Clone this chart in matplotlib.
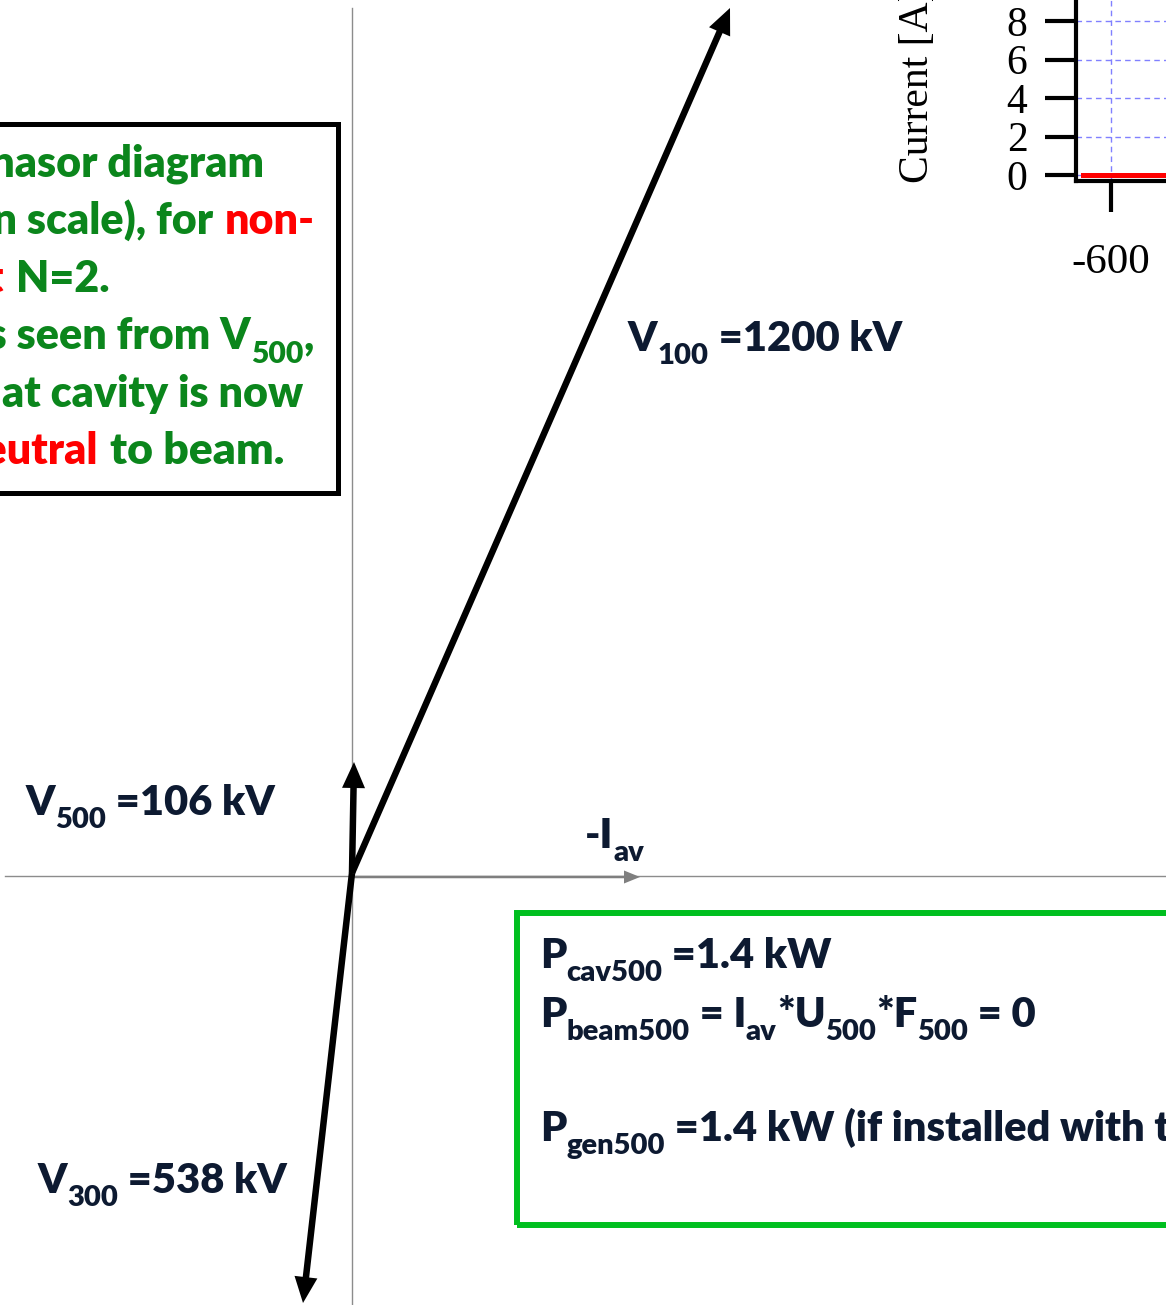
import matplotlib.pyplot as plt
from matplotlib.patches import Rectangle

W, H = 1166, 1305

# phasors: label, amplitude and drawn components (diagram is not in scale)
phasor_names = ['100', '500', '300']
phasor_kv = [1200, 106, 538]
phasor_dx = [378, 2, -49]
phasor_dy = [868, 114, -427]
iav_dx = 288
iav_dy = 0

# small current plot in the corner
inset_x = [-640, -400, -200, 0, 200, 400, 650]
inset_current = [0, 0, 0, 0, 0, 0, 0]
inset_xticks = [-600, -400, -200, 0, 200, 400, 600]
inset_yticks = [0, 2, 4, 6, 8, 10, 12, 14, 16, 18]

navy = '#0d1a31'
green = '#0b861c'
red = '#ff0000'

plt.rcParams['font.family'] = ['Lato', 'DejaVu Sans']
plt.rcParams['font.weight'] = 'heavy'
plt.rcParams['axes.unicode_minus'] = False

fig = plt.figure(figsize=(W / 100, H / 100), dpi=100)
renderer = fig.canvas.get_renderer()

# phasor diagram, origin at pixel (352, 876)
ox, oy = 352, 876
ax = fig.add_axes([0, 0, 1, 1])
ax.set_xlim(-ox, W - ox)
ax.set_ylim(-(H - oy), oy)
ax.axis('off')

ax.plot([0, 0], [-(H - oy), oy - 8], color='#8c8c8c', lw=1)
ax.plot([5 - ox, W - ox], [0, 0], color='#8c8c8c', lw=1)

for dx, dy in zip(phasor_dx, phasor_dy):
    ax.arrow(0, 3, dx, dy - 3, width=6.5, head_width=23, head_length=26,
             length_includes_head=True, fc='black', ec='black', lw=0, zorder=3)
ax.arrow(0, -1, iav_dx, iav_dy, width=2.5, head_width=13, head_length=16,
         length_includes_head=True, fc='#7f7f7f', ec='#7f7f7f', lw=0, zorder=2)


def put(x, y, s, **kw):
    kw.setdefault('va', 'baseline')
    kw.setdefault('fontsize', 30)
    kw.setdefault('color', navy)
    return fig.text(x / W, 1 - y / H, s, **kw)


def text_width(s, size):
    a = fig.text(0, 0, '|' + s + '|', fontsize=size)
    b = fig.text(0, 0, '||', fontsize=size)
    w = a.get_window_extent(renderer).width - b.get_window_extent(renderer).width
    a.remove()
    b.remove()
    return w


def rich(x, y, runs, size=30, ha='left', color=navy):
    # runs: (text, is_subscript[, colour])
    parts = []
    for r in runs:
        s, sub = r[0], r[1]
        c = r[2] if len(r) > 2 else color
        fs = size * 0.7 if sub else size
        parts.append((s, fs, sub, c, text_width(s, fs)))
    if ha == 'right':
        x -= sum(p[4] for p in parts)
    for s, fs, sub, c, w in parts:
        yy = y + 0.32 * size * 100 / 72 if sub else y
        put(x, yy, s, fontsize=fs, color=c)
        x += w


# phasor labels
label_pos = [(628, 351), (26, 815), (38, 1193)]
for name, kv, (x, y) in zip(phasor_names, phasor_kv, label_pos):
    rich(x, y, [('V', 0), (name, 1), (' =%d kV' % kv, 0)])
rich(585, 848, [('-I', 0), ('av', 1)])

# left note box
fig.add_artist(Rectangle((-10 / W, 1 - 493 / H), 348 / W, 369 / H,
                         transform=fig.transFigure, fill=False,
                         ec='black', lw=3.6))
fs = 31
put(264, 177, 'Phasor diagram', ha='right', color=green, fontsize=fs)
put(213, 234, '(not in scale), for', ha='right', color=green, fontsize=fs)
put(225, 234, 'non-', ha='left', color=red, fontsize=fs)
put(4, 292, 'resonant', ha='right', color=red, fontsize=fs)
put(16, 292, 'N=2.', ha='left', color=green, fontsize=fs)
rich(314, 349, [('As seen from V', 0), ('500', 1), (',', 0)],
     size=fs, ha='right', color=green)
put(303, 407, 'that cavity is now', ha='right', color=green, fontsize=fs)
put(98, 464, 'neutral', ha='right', color=red, fontsize=fs)
put(110, 464, 'to beam.', ha='left', color=green, fontsize=32)

# power box
fig.add_artist(Rectangle((517 / W, 1 - 1225 / H), 700 / W, 312 / H,
                         transform=fig.transFigure, fill=False,
                         ec='#00bf1f', lw=4.3))
rich(540, 968, [('P', 0), ('cav500', 1), (' =1.4 kW', 0)])
rich(540, 1027, [('P', 0), ('beam500', 1), (' = I', 0), ('av', 1), ('*U', 0),
                 ('500', 1), ('*F', 0), ('500', 1), (' = 0', 0)])
rich(540, 1141, [('P', 0), ('gen500', 1),
                 (' =1.4 kW (if installed with tuner)', 0)])

# current plot
serif = ['Liberation Serif', 'DejaVu Serif']
ins = fig.add_axes([1076 / W, 1 - 181 / H, 910 / W, 391 / H])
ins.plot(inset_x, inset_current, color=red, lw=3.6, zorder=3)
ins.set_xlim(-650, 650)
ins.set_ylim(-0.31, 20)
ins.set_xticks(inset_xticks)
ins.set_yticks(inset_yticks)
ins.grid(True, color='#8080ff', ls=(0, (4, 3)), lw=1)
for sp in ins.spines.values():
    sp.set_linewidth(3)
ins.tick_params(length=22, width=3, pad=13, labelsize=30)
ins.tick_params(axis='x', pad=23, labelsize=31)
for lab in ins.get_xticklabels() + ins.get_yticklabels():
    lab.set_fontfamily(serif)
    lab.set_fontweight('normal')
put(918, 183, 'Current [A]', rotation=90, ha='center', va='bottom',
    family=serif, fontweight='normal', fontsize=30, color='black')

fig.savefig('out.png', dpi=100)
